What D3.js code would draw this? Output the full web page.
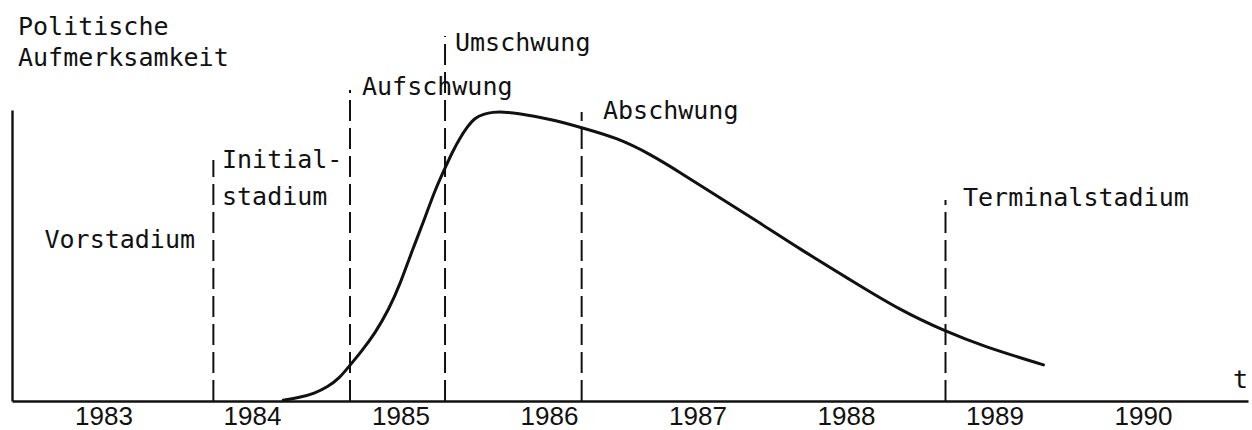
<!DOCTYPE html>
<html>
<head>
<meta charset="utf-8">
<script src="https://cdn.jsdelivr.net/npm/d3@7"></script>
<style>
  html, body { margin: 0; padding: 0; background: #fff; }
  svg { display: block; }
</style>
</head>
<body>
<svg id="chart" width="1252" height="430"></svg>
<script>
// ---- data ----
const years = [1983, 1984, 1985, 1986, 1987, 1988, 1989, 1990];
const curveTime = [1984.21, 1984.32, 1984.42, 1984.51, 1984.59, 1984.65, 1984.74, 1984.83,
                   1984.92, 1985.00, 1985.08, 1985.17, 1985.23, 1985.30, 1985.35, 1985.40,
                   1985.45, 1985.50, 1985.56, 1985.62, 1985.70, 1985.77, 1986.01, 1986.23,
                   1986.46, 1986.68, 1986.90, 1987.15, 1987.42, 1987.69, 1988.03, 1988.36,
                   1988.68, 1988.92, 1989.33];
const curveAttention = [0.3, 1.2, 2.6, 4.8, 7.9, 11.7, 17.2, 23.4,
                        31.3, 40.5, 51.9, 63.6, 72.2, 80.1, 85.6, 90.4,
                        94.2, 97.3, 98.6, 99.3, 99.3, 99.0, 96.9, 93.8,
                        90.4, 84.9, 78.0, 69.8, 61.2, 52.2, 41.6, 31.3,
                        23.7, 18.9, 12.4];
const phaseBoundaries = [1983.74, 1984.66, 1985.30, 1986.22, 1988.67];
const phaseLabels = ["Vorstadium", "Initial-\nstadium", "Aufschwung", "Umschwung", "Abschwung", "Terminalstadium"];
const yAxisTitle = ["Politische", "Aufmerksamkeit"];
const xAxisTitle = "t";

// ---- layout ----
const left = 12, right = 1248, baseY = 401, topY = 110;
const boundaryTops = [160, 90, 36, 112, 200];          // pixel tops of dashed lines
const labelPos = [                                      // [x, baseline y, anchor]
  [195, 248, "end"], [222, 168, "start"], [362, 95, "start"],
  [455, 51, "start"], [603, 119, "start"], [963, 206, "start"]
];

const svg = d3.select("#chart");
const x = d3.scaleLinear().domain([1982.384, 1990.707]).range([left, right]);
const y = d3.scaleLinear().domain([0, 100]).range([baseY, topY]);

const ink = "#111";
const monoFont = "'DejaVu Sans Mono', 'Liberation Mono', monospace";

// x axis
const xAxis = svg.append("g")
  .attr("transform", `translate(0,${baseY})`)
  .call(d3.axisBottom(x).tickValues(years).tickFormat(d3.format("d")).tickSize(0).tickSizeOuter(0));
xAxis.select(".domain").attr("stroke", ink).attr("stroke-width", 2.6);
xAxis.selectAll(".tick text")
  .attr("y", 23.5).attr("dy", 0)
  .attr("fill", ink)
  .style("font-family", "'Liberation Sans', Arial, sans-serif")
  .style("font-size", "26px");

// y axis
const yAxis = svg.append("g")
  .attr("transform", `translate(${left},0)`)
  .call(d3.axisLeft(y).tickValues([]).tickSizeOuter(0));
yAxis.select(".domain").attr("stroke", ink).attr("stroke-width", 2.4);

// dashed phase boundaries (drawn upward from baseline)
svg.append("g").selectAll("line")
  .data(phaseBoundaries)
  .join("line")
  .attr("x1", d => x(d)).attr("x2", d => x(d))
  .attr("y1", baseY).attr("y2", (d, i) => boundaryTops[i])
  .attr("stroke", ink).attr("stroke-width", 2)
  .attr("stroke-dasharray", "21,7");

// curve
const line = d3.line()
  .x(d => x(d[0])).y(d => y(d[1]))
  .curve(d3.curveBasis);
svg.append("path")
  .datum(curveTime.map((t, i) => [t, curveAttention[i]]))
  .attr("d", line)
  .attr("fill", "none")
  .attr("stroke", ink)
  .attr("stroke-width", 3)
  .attr("stroke-linecap", "round");

// phase labels
phaseLabels.forEach((lab, i) => {
  const [lx, ly, anchor] = labelPos[i];
  const t = svg.append("text")
    .attr("x", lx).attr("y", ly)
    .attr("text-anchor", anchor)
    .attr("fill", ink)
    .style("font-family", monoFont)
    .style("font-size", "25px");
  lab.split("\n").forEach((part, j) => {
    t.append("tspan").attr("x", lx).attr("dy", j === 0 ? 0 : 37).text(part);
  });
});

// y axis title
const yt = svg.append("text")
  .attr("x", 18).attr("y", 35)
  .attr("fill", ink)
  .style("font-family", monoFont)
  .style("font-size", "25px");
yAxisTitle.forEach((part, j) => {
  yt.append("tspan").attr("x", 18).attr("dy", j === 0 ? 0 : 31).text(part);
});

// x axis title
svg.append("text")
  .attr("x", 1233).attr("y", 388)
  .attr("fill", ink)
  .style("font-family", monoFont)
  .style("font-size", "25px")
  .text(xAxisTitle);
</script>
</body>
</html>
